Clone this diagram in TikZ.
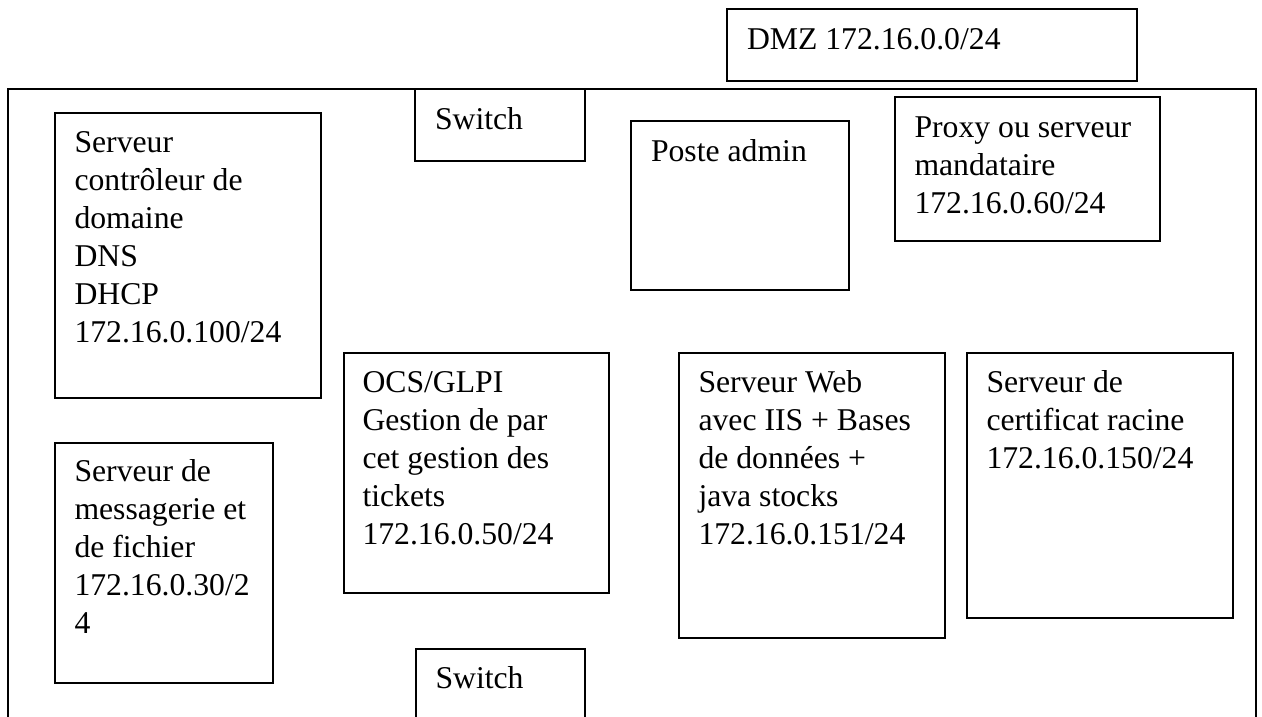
\documentclass[tikz,border=0pt]{standalone}
\usepackage{fontspec}
\setmainfont{Liberation Serif}
\begin{document}
\begin{tikzpicture}[x=1pt,y=-1pt,
  boxn/.style={draw=black, line width=2pt, rectangle, inner sep=0pt, outer sep=0pt, anchor=north west},
  lbl/.style={anchor=base west, inner sep=0pt, outer sep=0pt, font=\fontsize{31.7}{38}\selectfont}]
\useasboundingbox (0,0) rectangle (1262,717);
\clip (0,0) rectangle (1262,717);
\def\arraystretch{1}
% outer zone
\node[boxn, minimum width=1248pt, minimum height=700pt] (lan) at (8,89) {};
% DMZ label box
\node[boxn, minimum width=410pt, minimum height=72pt] (dmz) at (727,9) {};
\node[lbl] (dmzt) at ([xshift=20pt,yshift=-40.5pt]dmz.north west) {DMZ 172.16.0.0/24};
% switch top
\node[boxn, fill=white, minimum width=170pt, minimum height=72pt] (sw1) at (415,89) {};
\node[lbl] (sw1t) at ([xshift=20pt,yshift=-40pt]sw1.north west) {Switch};
% controleur
\node[boxn, minimum width=266pt, minimum height=285pt] (dc) at (55,113) {};
\node[lbl] (dct) at ([xshift=19.5pt,yshift=-39.5pt]dc.north west) {\begin{tabular}[t]{@{}l@{}}Serveur\\contrôleur de\\domaine\\DNS\\DHCP\\172.16.0.100/24\end{tabular}};
% poste admin
\node[boxn, minimum width=218pt, minimum height=169pt] (pa) at (631,121) {};
\node[lbl] (pat) at ([xshift=20pt,yshift=-40.5pt]pa.north west) {Poste admin};
% proxy
\node[boxn, minimum width=265pt, minimum height=144pt] (px) at (895,97) {};
\node[lbl] (pxt) at ([xshift=19.5pt,yshift=-40.5pt]px.north west) {\begin{tabular}[t]{@{}l@{}}Proxy ou serveur\\mandataire\\172.16.0.60/24\end{tabular}};
% OCS
\node[boxn, minimum width=265pt, minimum height=240pt] (ocs) at (344,353) {};
\node[lbl] (ocst) at ([xshift=18.5pt,yshift=-39pt]ocs.north west) {\begin{tabular}[t]{@{}l@{}}OCS/GLPI\\Gestion de par\\cet gestion des\\tickets\\172.16.0.50/24\end{tabular}};
% web
\node[boxn, minimum width=266pt, minimum height=285pt] (web) at (679,353) {};
\node[lbl] (webt) at ([xshift=19.5pt,yshift=-39pt]web.north west) {\begin{tabular}[t]{@{}l@{}}Serveur Web\\avec IIS + Bases\\de données +\\java stocks\\172.16.0.151/24\end{tabular}};
% certificat
\node[boxn, minimum width=266pt, minimum height=265pt] (ca) at (967,353) {};
\node[lbl] (cat) at ([xshift=19.5pt,yshift=-39pt]ca.north west) {\begin{tabular}[t]{@{}l@{}}Serveur de\\certificat racine\\172.16.0.150/24\end{tabular}};
% messagerie
\node[boxn, minimum width=218pt, minimum height=240pt] (msg) at (55,443) {};
\node[lbl] (msgt) at ([xshift=19.5pt,yshift=-38pt]msg.north west) {\begin{tabular}[t]{@{}l@{}}Serveur de\\messagerie et\\de fichier\\172.16.0.30/2\\4\end{tabular}};
% switch bottom
\node[boxn, minimum width=169pt, minimum height=100pt] (sw2) at (416,649) {};
\node[lbl] (sw2t) at ([xshift=19.5pt,yshift=-39.5pt]sw2.north west) {Switch};
\end{tikzpicture}
\end{document}
